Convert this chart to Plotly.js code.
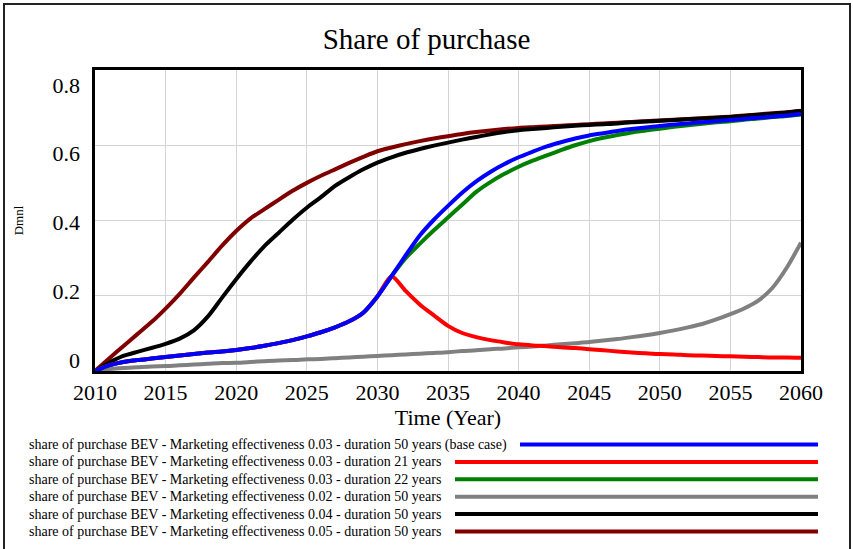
<!DOCTYPE html>
<html>
<head>
<meta charset="utf-8">
<script src="https://cdn.plot.ly/plotly-3.0.1.min.js"></script>
<style>
  html, body { margin: 0; padding: 0; background: #ffffff; }
  #chart { width: 853px; height: 549px; }
</style>
</head>
<body>
<div id="chart"></div>
<script>
// Simulation output: share of purchase of BEVs, 2010-2060, one value per year
const years = [];
for (let y = 2010; y <= 2060; y++) years.push(y);

const seriesNames = [
  "share of purchase BEV - Marketing effectiveness 0.03 - duration 50 years (base case)",
  "share of purchase BEV - Marketing effectiveness 0.03 - duration 21 years",
  "share of purchase BEV - Marketing effectiveness 0.03 - duration 22 years",
  "share of purchase BEV - Marketing effectiveness 0.02 - duration 50 years",
  "share of purchase BEV - Marketing effectiveness 0.04 - duration 50 years",
  "share of purchase BEV - Marketing effectiveness 0.05 - duration 50 years"
];

const seriesColors = ["#0000ff", "#ff0000", "#008000", "#808080", "#000000", "#800000"];

// effectiveness 0.03, duration 50 years (base case)
const baseCase = [
  0, 0.015, 0.024, 0.029, 0.033, 0.037, 0.041, 0.045, 0.049, 0.052,
  0.056, 0.061, 0.067, 0.074, 0.082, 0.092, 0.103, 0.116, 0.132, 0.155,
  0.198, 0.252, 0.307, 0.360, 0.402, 0.439, 0.474, 0.504, 0.529, 0.550,
  0.568, 0.583, 0.597, 0.608, 0.618, 0.626, 0.632, 0.638, 0.643, 0.647,
  0.651, 0.655, 0.658, 0.661, 0.664, 0.667, 0.670, 0.673, 0.676, 0.679,
  0.683
];

// effectiveness 0.03, duration 21 years
const duration21 = [
  0, 0.015, 0.024, 0.029, 0.033, 0.037, 0.041, 0.045, 0.049, 0.052,
  0.056, 0.061, 0.067, 0.074, 0.082, 0.092, 0.103, 0.116, 0.132, 0.155,
  0.198, 0.252, 0.213, 0.177, 0.148, 0.120, 0.101, 0.090, 0.082, 0.076,
  0.071, 0.068, 0.066, 0.063, 0.061, 0.058, 0.055, 0.052, 0.049, 0.047,
  0.045, 0.044, 0.042, 0.041, 0.040, 0.039, 0.038, 0.037, 0.036, 0.036,
  0.035
];

// effectiveness 0.03, duration 22 years
const duration22 = [
  0, 0.015, 0.024, 0.029, 0.033, 0.037, 0.041, 0.045, 0.049, 0.052,
  0.056, 0.061, 0.067, 0.074, 0.082, 0.092, 0.103, 0.116, 0.132, 0.155,
  0.198, 0.252, 0.300, 0.338, 0.374, 0.408, 0.442, 0.476, 0.502, 0.524,
  0.543, 0.559, 0.573, 0.587, 0.600, 0.611, 0.620, 0.627, 0.634, 0.639,
  0.644, 0.649, 0.653, 0.657, 0.661, 0.664, 0.668, 0.671, 0.675, 0.678,
  0.682
];

// effectiveness 0.02, duration 50 years
const effect002 = [
  0, 0.005, 0.008, 0.010, 0.012, 0.013, 0.015, 0.017, 0.019, 0.021,
  0.022, 0.024, 0.026, 0.028, 0.029, 0.031, 0.032, 0.034, 0.036, 0.038,
  0.040, 0.042, 0.044, 0.046, 0.048, 0.050, 0.053, 0.055, 0.058, 0.060,
  0.063, 0.065, 0.068, 0.071, 0.074, 0.077, 0.081, 0.085, 0.090, 0.095,
  0.101, 0.108, 0.116, 0.125, 0.137, 0.151, 0.167, 0.188, 0.222, 0.275,
  0.341
];

// effectiveness 0.04, duration 50 years
const effect004 = [
  0, 0.022, 0.040, 0.051, 0.061, 0.072, 0.086, 0.108, 0.145, 0.195,
  0.244, 0.290, 0.332, 0.367, 0.402, 0.434, 0.462, 0.492, 0.515, 0.536,
  0.554, 0.568, 0.580, 0.590, 0.599, 0.607, 0.615, 0.622, 0.629, 0.635,
  0.640, 0.643, 0.646, 0.649, 0.652, 0.654, 0.656, 0.658, 0.661, 0.663,
  0.665, 0.667, 0.669, 0.671, 0.673, 0.675, 0.678, 0.681, 0.684, 0.687,
  0.691
];

// effectiveness 0.05, duration 50 years
const effect005 = [
  0, 0.033, 0.066, 0.098, 0.130, 0.166, 0.205, 0.248, 0.290, 0.333,
  0.372, 0.405, 0.430, 0.455, 0.479, 0.500, 0.519, 0.536, 0.553, 0.569,
  0.584, 0.594, 0.603, 0.611, 0.618, 0.624, 0.630, 0.635, 0.639, 0.643,
  0.646, 0.648, 0.650, 0.652, 0.654, 0.656, 0.658, 0.660, 0.662, 0.664,
  0.666, 0.668, 0.670, 0.672, 0.674, 0.676, 0.679, 0.682, 0.685, 0.688,
  0.692
];

const seriesValues = [baseCase, duration21, duration22, effect002, effect004, effect005];

const xTicks = [2010, 2015, 2020, 2025, 2030, 2035, 2040, 2045, 2050, 2055, 2060];
const yTicks = [0, 0.2, 0.4, 0.6, 0.8];
const yTickText = ["0", "0.2", "0.4", "0.6", "0.8"];

// ---- page geometry (pixels) ----
const W = 853, H = 549;
const M = { l: 95, r: 52, t: 70, b: 178 };
const plotW = W - M.l - M.r, plotH = H - M.t - M.b;
const px = v => (v - M.l) / plotW;          // pixel x -> paper x
const py = v => (H - M.b - v) / plotH;      // pixel y -> paper y

const serif = "Liberation Serif, 'Times New Roman', Times, serif";

// first series is drawn last so it sits on top
const traces = [];
for (let i = seriesValues.length - 1; i >= 0; i--) {
  traces.push({
    type: "scatter",
    mode: "lines",
    x: years,
    y: seriesValues[i],
    name: seriesNames[i],
    line: { color: seriesColors[i], width: 4, shape: "spline", smoothing: 0.7 },
    hoverinfo: "skip",
    showlegend: false
  });
}

// an empty trace so the label axis (yaxis2) gets drawn
traces.push({
  type: "scatter", mode: "lines", x: [], y: [],
  xaxis: "x", yaxis: "y2", hoverinfo: "skip", showlegend: false
});

// tick labels sit on an evenly spaced scale slightly inset from the gridlines
const labelBottom = py(360), labelTop = py(85);
const unitsPerPaper = 0.8 / (labelTop - labelBottom);
const y2lo = -labelBottom * unitsPerPaper;
const y2hi = y2lo + unitsPerPaper;

// legend rows: text on the left, a line sample on the right
const legendTextX = 27, legendLineEnd = 818;
const legendLineStart = [520, 455, 455, 455, 455, 455];
const legendRowY = 444.5, legendRowStep = 17.4;

const annotations = [];
const shapes = [];
seriesNames.forEach((name, i) => {
  const yy = py(legendRowY + i * legendRowStep);
  annotations.push({
    xref: "paper", yref: "paper",
    x: px(legendTextX), y: yy,
    xanchor: "left", yanchor: "middle",
    text: name, showarrow: false,
    font: { family: serif, size: 14, color: "#000000" }
  });
  shapes.push({
    type: "line", xref: "paper", yref: "paper",
    x0: px(legendLineStart[i]), x1: px(legendLineEnd), y0: yy, y1: yy,
    line: { color: seriesColors[i], width: 4 }
  });
});

// outer frame
shapes.push({
  type: "rect", xref: "paper", yref: "paper",
  x0: px(4), x1: px(850), y0: py(555), y1: py(4),
  line: { color: "#222222", width: 2 }, fillcolor: "rgba(0,0,0,0)"
});

const layout = {
  width: W, height: H,
  margin: M,
  paper_bgcolor: "#ffffff",
  plot_bgcolor: "#ffffff",
  font: { family: serif, color: "#000000" },
  showlegend: false,
  title: {
    text: "Share of purchase",
    font: { family: serif, size: 29, color: "#000000" },
    x: 0.5, xref: "container", xanchor: "center",
    y: 1 - 39 / H, yref: "container", yanchor: "middle"
  },
  xaxis: {
    range: [2010, 2060],
    tickvals: xTicks,
    ticktext: xTicks.map(String),
    ticks: "",
    showgrid: true, gridcolor: "#d4d4d4", gridwidth: 1,
    zeroline: false,
    showline: true, linecolor: "#000000", linewidth: 3, mirror: true,
    tickfont: { family: serif, size: 22, color: "#000000" },
    title: { text: "Time (Year)", standoff: 2, font: { family: serif, size: 22, color: "#000000" } }
  },
  yaxis: {
    range: [0, 0.8],
    tickvals: yTicks,
    showticklabels: false,
    ticks: "",
    showgrid: true, gridcolor: "#d4d4d4", gridwidth: 1,
    zeroline: false,
    showline: true, linecolor: "#000000", linewidth: 3, mirror: true,
    title: { text: "Dmnl", standoff: 66, font: { family: serif, size: 13, color: "#000000" } }
  },
  yaxis2: {
    overlaying: "y", anchor: "x", side: "left",
    range: [y2lo, y2hi],
    tickvals: yTicks, ticktext: yTickText,
    ticks: "", showgrid: false, zeroline: false, showline: false,
    ticklabelstandoff: 14,
    tickfont: { family: serif, size: 22, color: "#000000" }
  },
  annotations: annotations,
  shapes: shapes
};

Plotly.newPlot("chart", traces, layout, { displayModeBar: false, staticPlot: true });
</script>
</body>
</html>
